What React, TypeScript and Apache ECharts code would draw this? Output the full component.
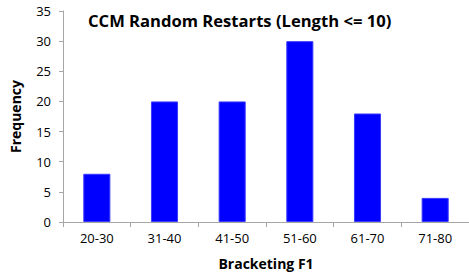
import React, { useEffect, useRef } from "react";
import * as echarts from "echarts";

const categories = ["20-30", "31-40", "41-50", "51-60", "61-70", "71-80"];
const frequency = [8, 20, 20, 30, 18, 4];
const yTicks = { min: 0, max: 35, interval: 5 };

export default function App() {
  const ref = useRef<HTMLDivElement>(null);
  useEffect(() => {
    const chart = echarts.init(ref.current!, null, { renderer: "svg" });
    const font = "'Open Sans', sans-serif";
    chart.setOption({
      animation: false,
      backgroundColor: "#ffffff",
      title: {
        text: "CCM Random Restarts (Length <= 10)",
        left: 83,
        top: 7,
        textStyle: { fontFamily: font, fontWeight: "bold", fontSize: 16.6, color: "#000" },
      },
      grid: { left: 56, right: 0, top: 11, bottom: 52, containLabel: false },
      xAxis: {
        type: "category",
        data: categories,
        boundaryGap: true,
        name: "Bracketing F1",
        nameLocation: "middle",
        nameGap: 34,
        nameTextStyle: { fontFamily: font, fontWeight: "bold", fontSize: 14, color: "#000" },
        axisLine: { show: true, lineStyle: { color: "#a6a6a6", width: 1 } },
        axisTick: { show: true, length: 5, alignWithLabel: false, lineStyle: { color: "#a6a6a6" } },
        axisLabel: { fontFamily: font, fontSize: 13, color: "#000", margin: 9 },
      },
      yAxis: {
        type: "value",
        min: yTicks.min,
        max: yTicks.max,
        interval: yTicks.interval,
        name: "Frequency",
        nameLocation: "middle",
        nameGap: 41,
        nameRotate: 90,
        nameTextStyle: { fontFamily: font, fontWeight: "bold", fontSize: 14, color: "#000" },
        axisLine: { show: true, lineStyle: { color: "#a6a6a6", width: 1 } },
        axisTick: { show: true, length: 4, inside: false, lineStyle: { color: "#a6a6a6" } },
        axisLabel: { fontFamily: font, fontSize: 13, color: "#000", margin: 12 },
        splitLine: { show: false },
      },
      series: [
        {
          type: "bar",
          data: frequency,
          barWidth: "40%",
          itemStyle: { color: "#0000ff", borderColor: "#3b3bff", borderWidth: 1 },
        },
      ],
    });
    return () => chart.dispose();
  }, []);
  return (
    <div
      ref={ref}
      style={{ position: "fixed", left: 0, top: 0, width: 469, height: 275, background: "#fff" }}
    />
  );
}
